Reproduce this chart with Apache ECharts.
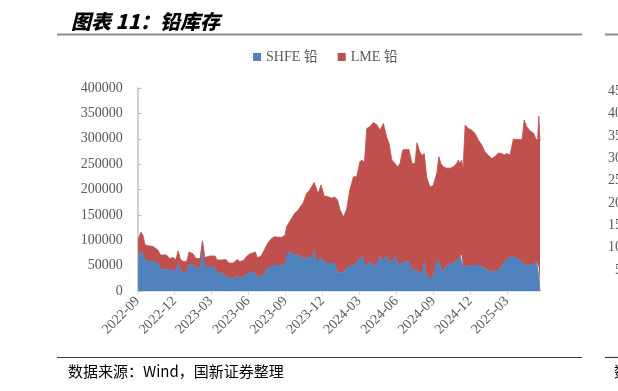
<!DOCTYPE html>
<html><head><meta charset="utf-8">
<script src="https://cdn.jsdelivr.net/npm/echarts@6/dist/echarts.min.js"></script>
<style>html,body{margin:0;padding:0;background:#fff}#c{width:618px;height:391px}</style>
</head><body><div id="c"></div>
<script>
const dates = [
 '2022-09-02','2022-09-09','2022-09-14','2022-09-19','2022-09-26','2022-10-08','2022-10-21','2022-10-27','2022-11-11','2022-11-19',
 '2022-11-28','2022-12-04','2022-12-10','2022-12-16','2022-12-24','2022-12-31','2023-01-06','2023-01-16','2023-01-23','2023-02-02',
 '2023-02-08','2023-02-14','2023-02-26','2023-03-11','2023-03-16','2023-03-27','2023-04-07','2023-04-15','2023-04-25','2023-05-05',
 '2023-05-11','2023-05-20','2023-05-28','2023-06-05','2023-06-13','2023-06-19','2023-06-23','2023-07-02','2023-07-11','2023-07-19',
 '2023-07-27','2023-08-04','2023-08-14','2023-08-23','2023-08-31','2023-09-04','2023-09-08','2023-09-16','2023-09-24','2023-10-01',
 '2023-10-07','2023-10-15','2023-10-23','2023-10-31','2023-11-06','2023-11-11','2023-11-15','2023-11-21','2023-11-28','2023-12-06',
 '2023-12-14','2023-12-24','2024-01-01','2024-01-08','2024-01-14','2024-01-22','2024-01-30','2024-02-07','2024-02-16','2024-02-24',
 '2024-03-03','2024-03-09','2024-03-14','2024-03-20','2024-03-28','2024-04-05','2024-04-13','2024-04-22','2024-04-30','2024-05-08',
 '2024-05-14','2024-05-21','2024-05-29','2024-06-04','2024-06-10','2024-06-17','2024-06-24','2024-07-02','2024-07-10','2024-07-17',
 '2024-07-22','2024-07-29','2024-08-04','2024-08-09','2024-08-15','2024-08-23','2024-08-31','2024-09-09','2024-09-14','2024-09-19',
 '2024-09-25','2024-10-03','2024-10-12','2024-10-20','2024-10-28','2024-11-01','2024-11-05','2024-11-09','2024-11-13','2024-11-18',
 '2024-11-26','2024-12-04','2024-12-12','2024-12-21','2024-12-29','2025-01-06','2025-01-14','2025-01-23','2025-01-31','2025-02-08',
 '2025-02-16','2025-02-23','2025-03-01','2025-03-09','2025-03-17','2025-03-25','2025-04-03','2025-04-08','2025-04-13','2025-04-19',
 '2025-04-27','2025-05-06','2025-05-11','2025-05-16','2025-05-19','2025-05-22'
];
const shfe = [
 66000,79000,71000,62000,58000,59000,55000,43000,43000,42000,
 40000,39000,55000,41000,35000,38000,53000,52000,45000,45000,
 77000,48000,47000,48000,36000,35000,30000,25000,25000,30000,
 25000,28000,33000,36000,38000,37000,27000,28000,35000,45000,
 48000,51000,51000,50000,53000,77000,77000,75000,69000,73000,
 69000,64000,66000,64000,69000,79000,61000,61000,66000,56000,
 55000,55000,55000,36000,36000,36000,45000,49000,51000,55000,
 64000,68000,51000,51000,58000,51000,51000,68000,58000,71000,
 58000,58000,68000,55000,51000,57000,58000,58000,41000,41000,
 41000,35000,35000,60000,28000,25000,28000,58000,60000,41000,
 41000,48000,55000,55000,58000,61000,71000,72000,48000,48000,
 49000,51000,51000,51000,49000,45000,40000,39000,39000,41000,
 48000,58000,61000,68000,68000,64000,61000,57000,51000,51000,
 51000,53000,58000,48000,48000,0
];
const lme = [
 36000,37000,39000,29000,31000,29000,26000,28000,28000,22000,
 26000,22000,24000,20000,23000,20000,24000,21000,19000,19000,
 22000,18000,22000,21000,25000,26000,32000,30000,30000,32000,
 33000,32000,35000,37000,37000,40000,39000,40000,46000,49000,
 54000,56000,55000,56000,57000,50000,55000,68000,84000,85000,
 96000,110000,126000,135000,138000,135000,153000,131000,143000,131000,
 131000,128000,130000,143000,124000,110000,115000,150000,174000,170000,
 191000,190000,201000,269000,266000,281000,277000,249000,272000,233000,
 233000,200000,183000,190000,200000,221000,221000,221000,210000,210000,
 251000,239000,232000,211000,197000,180000,180000,174000,205000,210000,
 204000,194000,187000,190000,193000,197000,180000,186000,194000,279000,
 271000,266000,260000,246000,239000,229000,228000,222000,226000,231000,
 223000,210000,210000,200000,231000,235000,237000,243000,286000,273000,
 265000,258000,243000,248000,297000,294000
];
const seriesNames = ['SHFE 铅', 'LME 铅'];
const xTickLabels = ['2022-09','2022-12','2023-03','2023-06','2023-09','2023-12','2024-03','2024-06','2024-09','2024-12','2025-03'];
const yMin = 0, yMax = 400000, yStep = 50000;
const xStart = '2022-09-01', xEnd = '2025-05-22';
const neighbourTicks = ['450000','400000','350000','300000','250000','200000','150000','100000','50000'];

function ts(s){ const p = s.split('-').map(Number); return Date.UTC(p[0], p[1]-1, p[2]||1); }
const tickValues = xTickLabels.map(ts);
const labelMap = {}; xTickLabels.forEach((l,i)=>{ labelMap[tickValues[i]] = l; });

const serif = 'Liberation Serif, "Noto Sans CJK SC", serif';
const chart = echarts.init(document.getElementById('c'), null, {renderer:'canvas'});

const graphics = [
  {type:'text', x:71, y:21, style:{text:'图表 11：铅库存', fontFamily:'"Noto Sans CJK SC", sans-serif', fontSize:20, fontWeight:900, fontStyle:'italic', fill:'#000', align:'left', verticalAlign:'middle'}},
  {type:'line', shape:{x1:57,y1:34.5,x2:582,y2:34.5}, style:{stroke:'#8c8c8c', lineWidth:2}},
  {type:'line', shape:{x1:605,y1:34.5,x2:618,y2:34.5}, style:{stroke:'#8c8c8c', lineWidth:2}},
  {type:'line', shape:{x1:57,y1:357.5,x2:582,y2:357.5}, style:{stroke:'#404040', lineWidth:1.2}},
  {type:'line', shape:{x1:605,y1:357.5,x2:618,y2:357.5}, style:{stroke:'#404040', lineWidth:1.2}},
  {type:'text', x:68, y:371, style:{text:'数据来源：Wind，国新证券整理', fontFamily:'"Noto Sans CJK SC", sans-serif', fontSize:15, fill:'#000', align:'left', verticalAlign:'middle'}},
  {type:'text', x:614, y:371, style:{text:'数据来源', fontFamily:'"Noto Sans CJK SC", sans-serif', fontSize:15, fill:'#000', align:'left', verticalAlign:'middle'}}
];
neighbourTicks.forEach((t,i)=>{
  graphics.push({type:'text', x:650, y:91.5 + i*22.3, style:{text:t, fontFamily:serif, fontSize:14, fill:'#595959', align:'right', verticalAlign:'middle'}});
});

chart.setOption({
  animation:false,
  backgroundColor:'#fff',
  color:['#4f81bd','#c0504d'],
  grid:{left:137.7, right:78, top:88, bottom:100, containLabel:false},
  legend:{left:253, top:50, padding:0, icon:'rect', itemWidth:8, itemHeight:8, itemGap:20,
    textStyle:{fontFamily:serif, fontSize:14, color:'#595959'}, data:seriesNames},
  xAxis:[
    {type:'time', position:'bottom', min:ts(xStart), max:ts(xEnd),
      axisLine:{show:false}, axisTick:{show:false}, axisLabel:{show:false}, splitLine:{show:false}},
    {type:'value', position:'bottom', min:ts(xStart), max:ts(xEnd), scale:true, offset:0,
      axisLine:{show:true, lineStyle:{color:'#d9d9d9', width:1.5}},
      axisTick:{show:true, inside:false, length:4, lineStyle:{color:'#d9d9d9'}, customValues:tickValues},
      axisLabel:{rotate:45, margin:8, fontFamily:serif, fontSize:14, color:'#595959', customValues:tickValues,
        formatter:(v)=> labelMap[v] !== undefined ? labelMap[v] : ''},
      splitLine:{show:false}}
  ],
  yAxis:{type:'value', min:yMin, max:yMax, interval:yStep,
    axisLine:{show:true, lineStyle:{color:'#bfbfbf', width:1.5}},
    axisTick:{show:true, inside:true, length:4, lineStyle:{color:'#bfbfbf'}},
    axisLabel:{margin:15, fontFamily:serif, fontSize:14, color:'#595959', formatter:(v)=>String(v)},
    splitLine:{show:false}},
  series:[
    {name:seriesNames[0], type:'line', xAxisIndex:0, stack:'inv', symbol:'none',
     data:dates.map((d,i)=>[ts(d), shfe[i]]),
     lineStyle:{width:0.8, color:'#4f81bd'}, areaStyle:{color:'#4f81bd', opacity:1}, itemStyle:{color:'#4f81bd'}},
    {name:seriesNames[1], type:'line', xAxisIndex:0, stack:'inv', symbol:'none',
     data:dates.map((d,i)=>[ts(d), lme[i]]),
     lineStyle:{width:0.8, color:'#c0504d'}, areaStyle:{color:'#c0504d', opacity:1}, itemStyle:{color:'#c0504d'}}
  ],
  graphic:graphics
});
</script></body></html>
